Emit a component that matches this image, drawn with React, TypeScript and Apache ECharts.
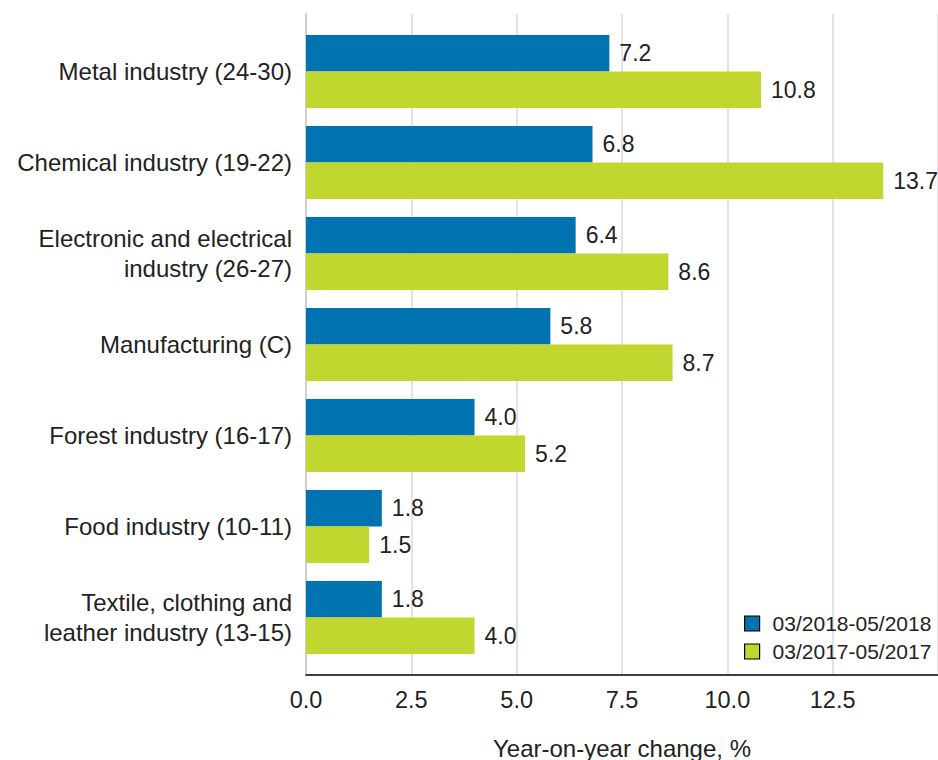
import React, { useEffect, useRef } from "react";
import * as echarts from "echarts";

const categories = [
  "Metal industry (24-30)",
  "Chemical industry (19-22)",
  "Electronic and electrical\nindustry (26-27)",
  "Manufacturing (C)",
  "Forest industry (16-17)",
  "Food industry (10-11)",
  "Textile, clothing and\nleather industry (13-15)",
];
const series2018Name = "03/2018-05/2018";
const series2017Name = "03/2017-05/2017";
const values2018 = [7.2, 6.8, 6.4, 5.8, 4.0, 1.8, 1.8];
const values2017 = [10.8, 13.7, 8.6, 8.7, 5.2, 1.5, 4.0];
const xAxisTitle = "Year-on-year change, %";

const FONT = "Liberation Sans, Arial, sans-serif";
const TXT = "#222";

export default function App() {
  const ref = useRef<HTMLDivElement>(null);
  useEffect(() => {
    if (!ref.current) return;
    const chart = echarts.init(ref.current, null, { renderer: "svg" });
    const label = {
      show: true,
      position: "right",
      distance: 10,
      color: TXT,
      fontSize: 23,
      fontFamily: FONT,
      formatter: (p: any) => Number(p.value).toFixed(1),
    };
    chart.setOption({
      animation: false,
      backgroundColor: "#fff",
      textStyle: { fontFamily: FONT },
      legend: {
        orient: "vertical",
        left: 739,
        top: 608,
        padding: 5,
        itemWidth: 15,
        itemHeight: 15,
        itemGap: 7,
        icon: "rect",
        itemStyle: { borderColor: "#000", borderWidth: 1.2 },
        textStyle: {
          fontSize: 21,
          fontFamily: FONT,
          color: TXT,
          padding: [0, 0, 0, 8],
        },
        data: [series2018Name, series2017Name],
      },
      grid: [
        { left: 306, right: 0, top: 14, bottom: 85, containLabel: false, outerBoundsMode: "none" },
        { left: 306, right: 0, top: 26, bottom: 97, containLabel: false, outerBoundsMode: "none" },
      ],
      xAxis: [
        {
          gridIndex: 0,
          type: "value",
          min: 0,
          max: 15,
          interval: 2.5,
          axisLine: { show: true, lineStyle: { color: "#000", width: 1.5 } },
          axisTick: { show: false },
          splitLine: { show: true, lineStyle: { color: "#e3e3e3", width: 2 } },
          axisLabel: {
            showMaxLabel: false,
            margin: 13,
            fontSize: 23.5,
            fontFamily: FONT,
            color: TXT,
            formatter: (v: number) => v.toFixed(1),
          },
          name: xAxisTitle,
          nameLocation: "middle",
          nameGap: 61,
          nameTextStyle: { fontSize: 24, fontFamily: FONT, color: TXT },
        },
        {
          gridIndex: 1,
          type: "value",
          min: 0,
          max: 15,
          show: false,
        },
      ],
      yAxis: [
        {
          gridIndex: 0,
          type: "value",
          min: 0,
          max: 1,
          axisLine: { show: true, lineStyle: { color: "#cfcfcf", width: 2 } },
          axisTick: { show: false },
          axisLabel: { show: false },
          splitLine: { show: false },
        },
        {
          gridIndex: 1,
          type: "category",
          inverse: true,
          data: categories,
          axisLine: { show: false },
          axisTick: { show: false },
          axisLabel: {
            margin: 14,
            fontSize: 24,
            fontFamily: FONT,
            color: TXT,
            lineHeight: 30,
            align: "right",
          },
        },
      ],
      series: [
        {
          name: series2018Name,
          type: "bar",
          xAxisIndex: 1,
          yAxisIndex: 1,
          data: values2018,
          itemStyle: { color: "#0073b0" },
          barGap: "0%",
          barCategoryGap: "20%",
          label,
        },
        {
          name: series2017Name,
          type: "bar",
          xAxisIndex: 1,
          yAxisIndex: 1,
          data: values2017,
          itemStyle: { color: "#c1d72f" },
          barGap: "0%",
          barCategoryGap: "20%",
          label,
        },
      ],
    });
    return () => chart.dispose();
  }, []);
  return (
    <div
      ref={ref}
      style={{ position: "fixed", left: 0, top: 0, width: 938, height: 760 }}
    />
  );
}
